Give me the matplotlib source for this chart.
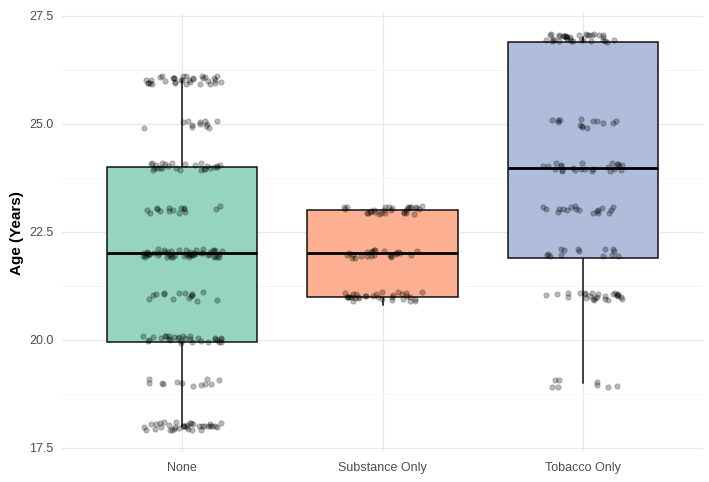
#Box plot of age by use group, with jittered points on top.
import numpy as np
import matplotlib
import matplotlib.pyplot as plt

#Font settings.
matplotlib.rc('font', family='Liberation Sans', size=9)

#Groups shown on the x axis.
groups = ["None", "Substance Only", "Tobacco Only"]
#Fill colours of the boxes (Set2 palette).
fills = ["#66C2A5", "#FC8D62", "#8DA0CB"]

#Ages seen in each group and how many points sit at each age.
ages_none = [18, 19, 20, 21, 22, 23, 24, 25, 26]
count_none = [36, 12, 30, 15, 52, 15, 26, 12, 34]
ages_subst = [21, 22, 23]
count_subst = [32, 24, 30]
ages_tob = [19, 21, 22, 23, 24, 25, 27]
count_tob = [8, 26, 14, 18, 24, 14, 36]

#Box statistics: whisker low, Q1, median, Q3, whisker high.
whis_low = [18.0, 20.8, 19.0]
q1 = [19.95, 21.0, 21.9]
median = [22.0, 22.0, 23.97]
q3 = [24.0, 23.0, 26.9]
whis_high = [26.0, 23.0, 27.0]

#Deterministic hash used for the jitter offsets (values in 0..1).
def hash01(idx, salt):
    v = np.sin(idx * 12.9898 + salt * 78.233) * 43758.5453
    return v - np.floor(v)

fig = plt.figure(figsize=(7.09, 4.82), dpi=100)
ax = fig.add_axes([0.0875, 0.062, 0.904, 0.91])

#Boxes.
stats = []
for i in range(3):
    stats.append({'whislo': whis_low[i], 'q1': q1[i], 'med': median[i],
                  'q3': q3[i], 'whishi': whis_high[i], 'fliers': []})
bp = ax.bxp(stats, positions=[1, 2, 3], widths=0.75, patch_artist=True,
            showfliers=False, showcaps=False,
            boxprops=dict(edgecolor='#111111', linewidth=1.1),
            whiskerprops=dict(color='#111111', linewidth=1.1),
            medianprops=dict(color='#000000', linewidth=2.0))
for patch, c in zip(bp['boxes'], fills):
    rgb = np.array(matplotlib.colors.to_rgb(c))
    patch.set_facecolor(0.7 * rgb + 0.3)
for w in bp['whiskers']:
    w.set_zorder(1.5)

#Jittered points.
all_ages = [ages_none, ages_subst, ages_tob]
all_counts = [count_none, count_subst, count_tob]
for g in range(3):
    y = np.repeat(all_ages[g], all_counts[g]).astype(float)
    idx = np.arange(len(y)) + 1.0
    jx = (hash01(idx, 2 * g + 1) - 0.5) * 0.4
    jy = (hash01(idx, 2 * g + 2) - 0.5) * 0.2
    ax.scatter(g + 1 + jx, y + jy, s=15, color='black', alpha=0.28,
               edgecolors='black', linewidths=0.5, zorder=3)

#Axes limits and ticks.
ax.set_xlim(0.4, 3.6)
ax.set_ylim(17.4, 27.55)
ax.set_xticks([1, 2, 3])
ax.set_xticklabels(groups)
ax.set_yticks([17.5, 20.0, 22.5, 25.0, 27.5])
ax.set_yticklabels(["17.5", "20.0", "22.5", "25.0", "27.5"])
ax.set_yticks([18.75, 21.25, 23.75, 26.25], minor=True)

#Minimal theme: light grid, no frame, no tick marks.
ax.grid(True, which='major', color='#e8e8e8', linewidth=0.9)
ax.grid(True, which='minor', axis='y', color='#f2f2f2', linewidth=0.6)
ax.set_axisbelow(True)
for s in ax.spines.values():
    s.set_visible(False)
ax.tick_params(axis='both', which='both', length=0, colors='#4d4d4d', labelsize=9)
ax.tick_params(axis='y', pad=6)
ax.tick_params(axis='x', pad=7)

#Labeling the y-axis.
ax.set_ylabel("Age (Years)", fontsize=11, fontweight='bold', color='black', labelpad=4)

#Figure saved.
fig.savefig("out.png", dpi=100)
